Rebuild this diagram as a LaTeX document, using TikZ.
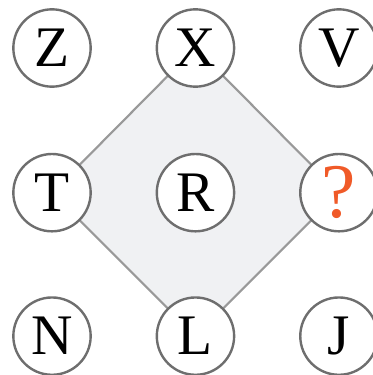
\documentclass[tikz,border=0pt]{standalone}
\usepackage{fontspec}
\setmainfont{Liberation Serif}
\usepackage{tikz}
\usetikzlibrary{shapes,calc,backgrounds}
\definecolor{ringgray}{HTML}{6E6E6E}
\definecolor{edgegray}{HTML}{999999}
\definecolor{panefill}{HTML}{F0F1F3}
\definecolor{askorange}{HTML}{F05A28}
\tikzstyle{letter} = [draw=ringgray, line width=1.8pt, circle, fill=white, minimum size=58pt, inner sep=0pt, text centered, font=\fontsize{43}{43}\selectfont]
\tikzstyle{pane} = [draw=edgegray, line width=1.6pt, fill=panefill]

\begin{document}
\begin{tikzpicture}[x=0.75pt, y=0.75pt, node distance = 107.6pt]
        \useasboundingbox (0,0) rectangle (373,375);
        \node[letter] (Z) at (52,327) {Z};
        \node[letter, right of=Z] (X) {X};
        \node[letter, right of=X] (V) {V};
        \node[letter, below of=Z, node distance = 108.5pt] (T) {T};
        \node[letter, right of=T] (R) {R};
        \node[letter, right of=R, text=askorange, font=\fontsize{58}{58}\selectfont] (ask) {?};
        \node[letter, below of=T] (N) {N};
        \node[letter, right of=N] (L) {L};
        \node[letter, right of=L] (J) {J};
        \begin{pgfonlayer}{background}
            \path[pane] (X.center) -- (ask.center) -- (L.center) -- (T.center) -- cycle;
        \end{pgfonlayer}
    \end{tikzpicture}
\end{document}
